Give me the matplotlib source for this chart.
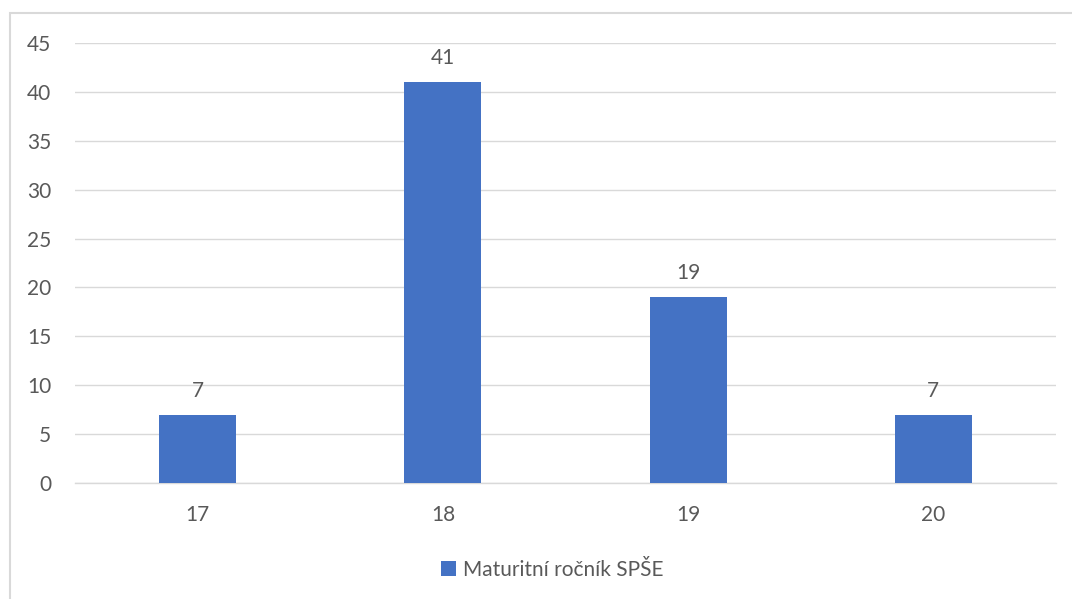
import matplotlib

matplotlib.use("Agg")
import matplotlib.pyplot as plt
from matplotlib.patches import Rectangle

categories = ["17", "18", "19", "20"]
values = [7, 41, 19, 7]
series_name = "Maturitní ročník SPŠE"

plt.rcParams["font.family"] = ["Lato", "DejaVu Sans"]
TEXT = "#595959"

fig = plt.figure(figsize=(10.72, 5.99), dpi=100)
ax = fig.add_axes([75 / 1072, 1 - 483 / 599, (1056 - 75) / 1072, (483 - 43) / 599])

x = range(len(categories))
bars = ax.bar(x, values, width=0.314, color="#4472C4", label=series_name, zorder=3)
for rect, v in zip(bars, values):
    ax.annotate(str(v), (rect.get_x() + rect.get_width() / 2, v), xytext=(0, 10),
                textcoords="offset points", ha="center", va="bottom", fontsize=15, color=TEXT)

ax.set_xlim(-0.5, len(categories) - 0.5)
ax.set_ylim(0, 45)
ax.set_yticks(range(0, 46, 5))
ax.set_xticks(list(x))
ax.set_xticklabels(categories)
ax.tick_params(axis="both", length=0, labelsize=15, labelcolor=TEXT)
ax.tick_params(axis="y", pad=17)
ax.tick_params(axis="x", pad=16)
ax.grid(axis="y", color="#D9D9D9", linewidth=1, zorder=0)
for side in ("top", "left", "right"):
    ax.spines[side].set_visible(False)
ax.spines["bottom"].set_color("#D9D9D9")
ax.spines["bottom"].set_linewidth(1)

fig.legend(handles=[bars], labels=[series_name], loc="center", bbox_to_anchor=(552 / 1072, 1 - 570 / 599),
           frameon=False, fontsize=15, labelcolor=TEXT, handlelength=0.75, handleheight=0.75,
           handletextpad=0.3)

fig.patches.append(Rectangle((10 / 1072, -0.1), 1.2, 1 - 13 / 599 + 0.1, transform=fig.transFigure,
                             fill=False, edgecolor="#D9D9D9", linewidth=1.5))

fig.savefig("out.png", dpi=100)
